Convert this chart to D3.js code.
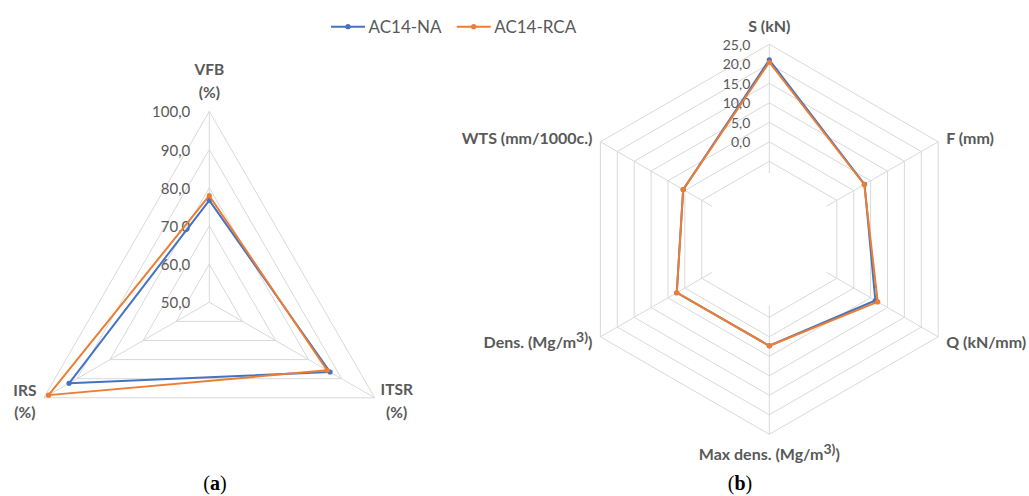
<!DOCTYPE html>
<html>
<head>
<meta charset="utf-8">
<script src="https://cdn.jsdelivr.net/npm/d3@7"></script>
<style>
  html, body { margin: 0; padding: 0; background: #fff; }
  svg { display: block; font-family: Lato, "Open Sans", sans-serif; }
</style>
</head>
<body>
<svg id="chart" width="1029" height="496"></svg>
<script>
// ---------------- data ----------------
const seriesNames = ["AC14-NA", "AC14-RCA"];
const seriesColors = ["#4472C4", "#ED7D31"];

// panel (a)
const axesA = [["VFB", "(%)"], ["ITSR", "(%)"], ["IRS", "(%)"]];
const ticksA = [50, 60, 70, 80, 90, 100];
const naA = [76.7, 86.5, 92.4];
const rcaA = [77.9, 85.6, 98.6];

// panel (b)
const axesB = ["S (kN)", "F (mm)", "Q (kN/mm)", "Max dens. (Mg/m|3)", "Dens. (Mg/m|3)", "WTS (mm/1000c.)"];
const ringsB = [-5, 0, 5, 10, 15, 20, 25];
const ticksB = [0, 5, 10, 15, 20, 25];
const naB = [21.0, 3.2, 6.4, 2.3, 2.4, 0.5];
const rcaB = [20.4, 3.1, 7.1, 2.3, 2.4, 0.5];

const svg = d3.select("#chart");
const fmt = v => d3.format(".1f")(v).replace(".", ",");
const gridColor = "#d9d9d9";
const textColor = "#595959";

// helper: punto sobre un eje
function pt(cx, cy, r, i, n) {
    const a = 2 * Math.PI * i / n;
    return [cx + r * Math.sin(a), cy - r * Math.cos(a)];
}

function drawRadar(opt) {
    const { cx, cy, R, domain, rings, ticks, spokeFrom, series, n } = opt;
    const rScale = d3.scaleLinear().domain(domain).range([0, R]);
    const g = svg.append("g");

    // rings
    rings.forEach(v => {
        const pts = d3.range(n).map(i => pt(cx, cy, rScale(v), i, n));
        g.append("path")
            .attr("d", d3.line()(pts) + "Z")
            .attr("fill", "none")
            .attr("stroke", gridColor)
            .attr("stroke-width", 1);
    });
    // spokes
    d3.range(n).forEach(i => {
        const p0 = pt(cx, cy, rScale(spokeFrom), i, n);
        const p1 = pt(cx, cy, R, i, n);
        g.append("line")
            .attr("x1", p0[0]).attr("y1", p0[1])
            .attr("x2", p1[0]).attr("y2", p1[1])
            .attr("stroke", gridColor);
    });
    // tick labels
    ticks.forEach(v => {
        g.append("text")
            .attr("x", cx - 19)
            .attr("y", cy - rScale(v))
            .attr("dominant-baseline", "central")
            .attr("text-anchor", "end")
            .attr("font-size", opt.tickSize)
            .attr("fill", textColor)
            .text(fmt(v));
    });
    // series
    series.forEach((vals, s) => {
        const pts = vals.map((v, i) => pt(cx, cy, rScale(v), i, n));
        g.append("path")
            .attr("d", d3.line()(pts) + "Z")
            .attr("fill", "none")
            .attr("stroke", seriesColors[s])
            .attr("stroke-width", 2)
            .attr("stroke-linejoin", "round");
        g.selectAll(null).data(pts).enter().append("circle")
            .attr("cx", d => d[0]).attr("cy", d => d[1])
            .attr("r", 2.6)
            .attr("fill", seriesColors[s]);
    });
    return { g, rScale };
}

// ---------------- panel (a) ----------------
const A = drawRadar({
    cx: 209.3, cy: 302.3, R: 191, n: 3,
    domain: [50, 100], rings: ticksA.slice(1), ticks: ticksA,
    spokeFrom: 50, series: [naA, rcaA], tickSize: "15px"
});
const labelOffA = [[0, -42, 0, -19.5], [22, -8.5, 22, 14], [-19, -8, -19, 14]];
axesA.forEach((lines, i) => {
    const v = pt(209.3, 302.3, 191, i, 3);
    const o = labelOffA[i];
    lines.forEach((t, k) => {
        A.g.append("text")
            .attr("x", v[0] + o[k * 2])
            .attr("y", v[1] + o[k * 2 + 1])
            .attr("dominant-baseline", "central")
            .attr("text-anchor", "middle")
            .attr("font-size", "15.5px")
            .attr("font-weight", "bold")
            .attr("fill", textColor)
            .text(t);
    });
});

// ---------------- panel (b) ----------------
const B = drawRadar({
    cx: 769.3, cy: 239.3, R: 195, n: 6,
    domain: [-25, 25], rings: ringsB, ticks: ticksB,
    spokeFrom: -8, series: [naB, rcaB], tickSize: "14px"
});
axesB.forEach((lab, i) => {
    const a = 2 * Math.PI * i / 6;
    const v = pt(769.3, 239.3, 195, i, 6);
    const s = Math.sin(a), c = Math.cos(a);
    let anchor = "middle", dx = 0, dy;
    if (s > 0.1) { anchor = "start"; dx = 8; }
    if (s < -0.1) { anchor = "end"; dx = -8; }
    if (Math.abs(c) > 0.9) dy = c > 0 ? -19 : 19;
    else dy = -c * 9;
    const [main, sup] = lab.split("|");
    const t = B.g.append("text")
        .attr("x", v[0] + dx)
        .attr("y", v[1] + dy)
        .attr("dominant-baseline", "central")
        .attr("text-anchor", anchor)
        .attr("font-size", "16px")
        .attr("font-weight", "bold")
        .attr("fill", textColor);
    t.append("tspan").text(main);
    if (sup) {
        t.append("tspan").attr("dy", -5).attr("font-size", "14px").text(sup);
        t.append("tspan").attr("dy", 5).text(")");
    }
});

// ---------------- legend ----------------
const legendX = [331, 456.7];
seriesNames.forEach((name, s) => {
    const lg = svg.append("g").attr("transform", `translate(${legendX[s]},26.7)`);
    lg.append("line").attr("x1", 0).attr("x2", 34)
        .attr("stroke", seriesColors[s]).attr("stroke-width", 2);
    lg.append("circle").attr("cx", 17).attr("r", 2.6).attr("fill", seriesColors[s]);
    lg.append("text").attr("x", 37.5)
        .attr("dominant-baseline", "central")
        .attr("font-size", "17px")
        .attr("fill", textColor)
        .text(name);
});

// ---------------- captions ----------------
[["a", 215], ["b", 740]].forEach(([l, x]) => {
    const t = svg.append("text")
        .attr("x", x).attr("y", 483)
        .attr("dominant-baseline", "central")
        .attr("text-anchor", "middle")
        .attr("font-family", "'Liberation Serif', 'DejaVu Serif', serif")
        .attr("font-size", "20px")
        .attr("fill", "#000");
    t.append("tspan").text("(");
    t.append("tspan").attr("font-weight", "bold").text(l);
    t.append("tspan").text(")");
});
</script>
</body>
</html>
